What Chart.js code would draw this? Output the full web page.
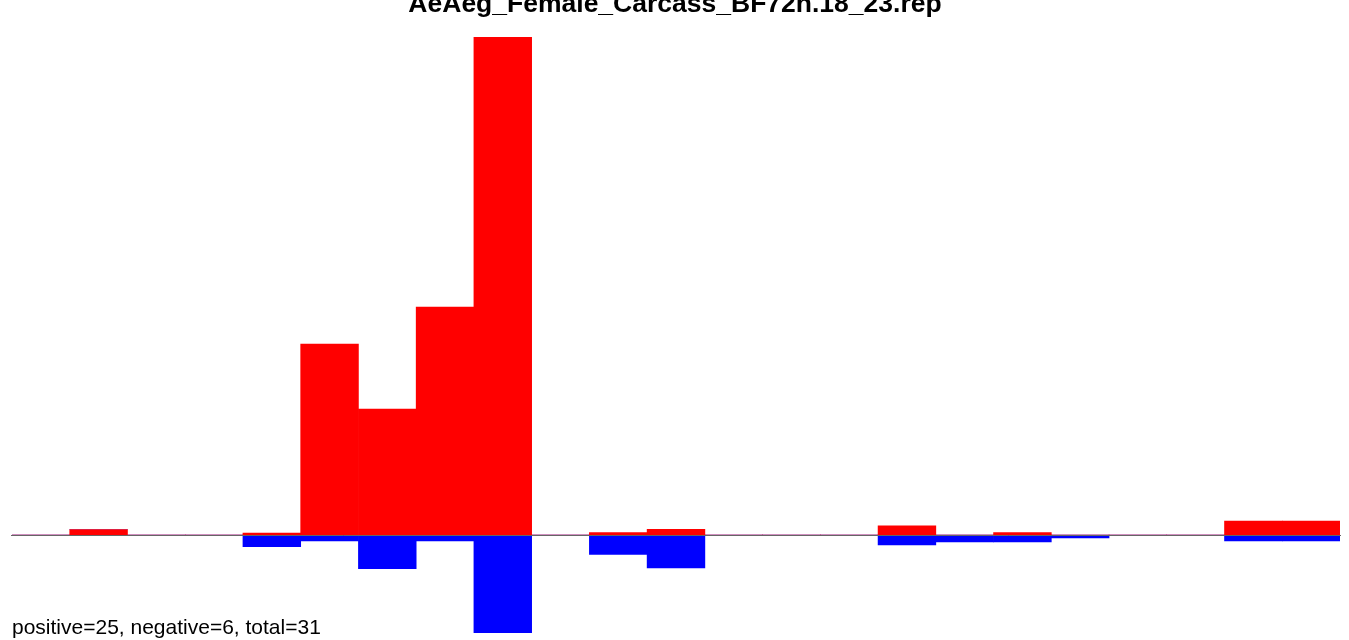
<!DOCTYPE html>
<html>
<head>
<meta charset="utf-8">
<script src="https://cdn.jsdelivr.net/npm/chart.js@4"></script>
<style>
  html, body { margin: 0; padding: 0; background: #fff; }
  #wrap { width: 1349px; height: 640px; }
</style>
</head>
<body>
<div id="wrap"><canvas id="chart" width="1349" height="640"></canvas></div>
<script>
// 23 bins along the x axis
const bins = Array.from({ length: 23 }, (_, i) => String(i + 1));

// (same units for both series)
const positiveValues = [0, 5.5, 0, 0, 2, 191, 126, 228, 498, 0, 2.3, 5.7, 0, 0, 0, 9.2, 0, 2.3, 0, 0, 0, 14, 14];
const negativeValues = [0, 0, 0, 0, -11.7, -6, -33.7, -6, -98, 0, -19.5, -33, 0, 0, 0, -10, -6.9, -6.9, -3, 0, 0, -6, -6];

const titleText = 'AeAeg_Female_Carcass_BF72h.18_23.rep';
const footerText = 'positive=25, negative=6, total=31';

const textPlugin = {
  id: 'texts',
  afterDatasetsDraw(chart) {
    const ctx = chart.ctx;
    const y0 = chart.scales.y.getPixelForValue(0);
    ctx.save();
    // zero line over the bars
    ctx.strokeStyle = '#666666';
    ctx.lineWidth = 1;
    ctx.beginPath();
    ctx.moveTo(11, Math.round(y0) + 0.5);
    ctx.lineTo(1341, Math.round(y0) + 0.5);
    ctx.stroke();
    ctx.fillStyle = '#000';
    ctx.font = 'bold 26.5px "Liberation Sans", Arial, sans-serif';
    ctx.textAlign = 'center';
    ctx.textBaseline = 'alphabetic';
    ctx.fillText(titleText, 675, 12);
    ctx.font = '21px "Liberation Sans", Arial, sans-serif';
    ctx.textAlign = 'left';
    ctx.fillText(footerText, 12, 634);
    ctx.restore();
  }
};

new Chart(document.getElementById('chart'), {
  type: 'bar',
  data: {
    labels: bins,
    datasets: [
      { data: positiveValues, backgroundColor: '#ff0000', borderWidth: 0 },
      { data: negativeValues, backgroundColor: '#0000ff', borderWidth: 0 }
    ]
  },
  options: {
    responsive: false,
    animation: false,
    layout: { padding: { left: 12, right: 9, top: 37, bottom: 7 } },
    datasets: { bar: { categoryPercentage: 1, barPercentage: 1 } },
    plugins: {
      legend: { display: false },
      tooltip: { enabled: false },
      title: { display: false }
    },
    scales: {
      x: { display: false, stacked: true },
      y: { display: false, stacked: true, min: -98, max: 498 }
    }
  },
  plugins: [textPlugin]
});
</script>
</body>
</html>
